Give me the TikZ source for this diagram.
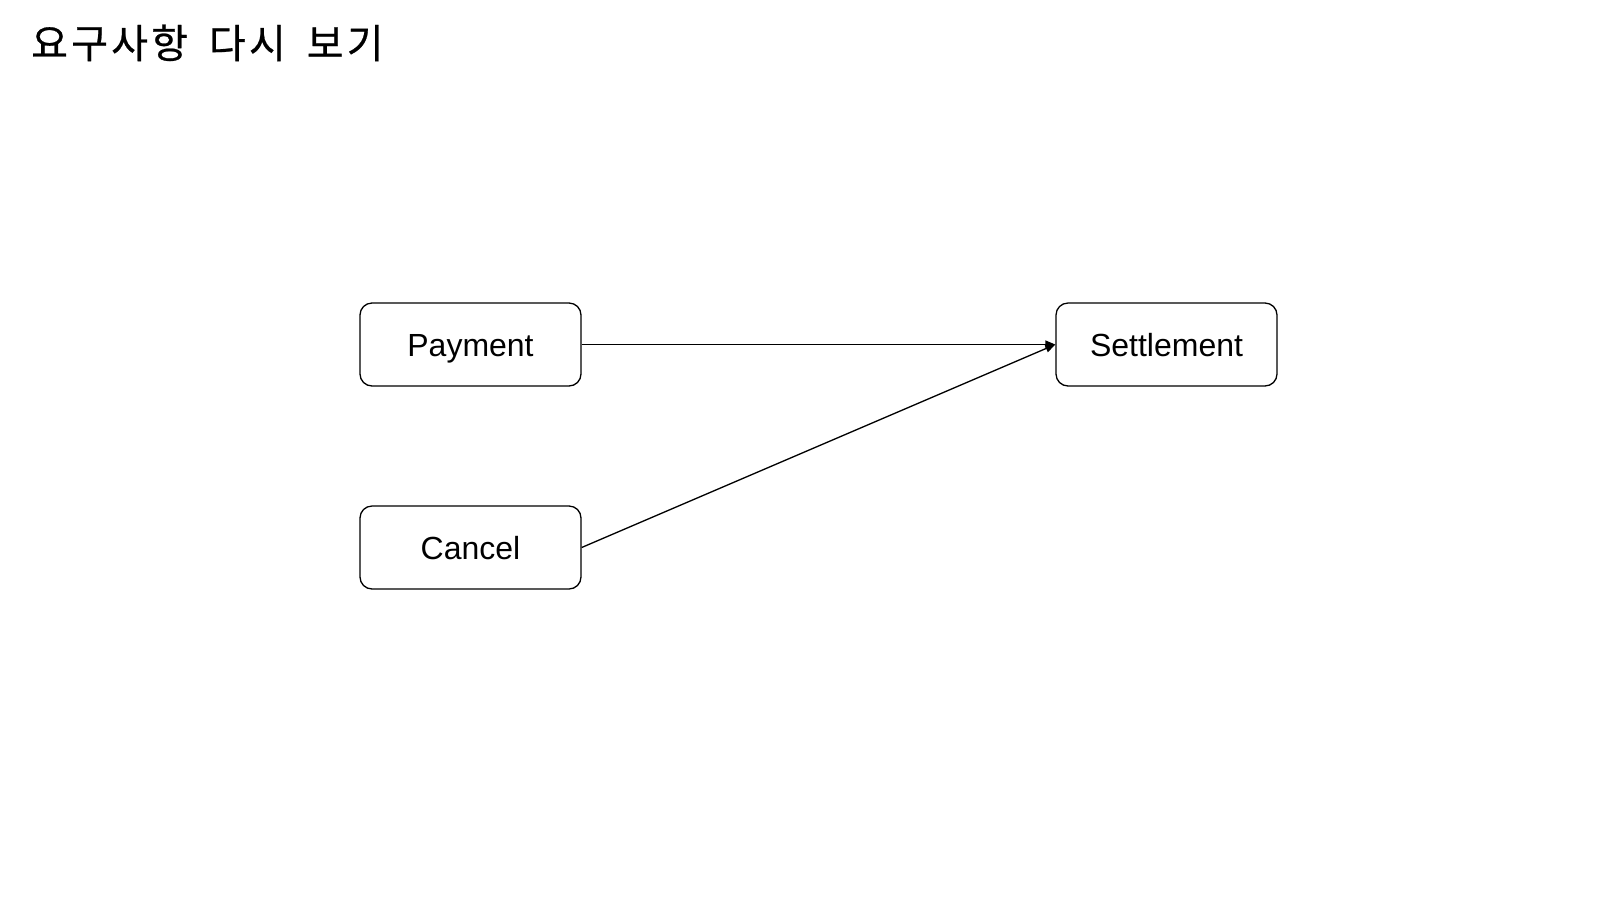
\documentclass[tikz,border=0pt]{standalone}
\usepackage{fontspec}
\setmainfont{Liberation Sans}
\newfontfamily\krfont[FakeBold=0.6,LetterSpace=8]{Noto Sans CJK KR}
\usetikzlibrary{arrows.meta}
\begin{document}
\begin{tikzpicture}[x=1pt,y=-1pt,
  box/.style={draw, line width=1.3pt, rounded corners=12pt, minimum width=221pt,
    minimum height=83pt, inner sep=0pt, text height=23pt, text depth=0pt,
    font=\fontsize{32}{37}\selectfont},
  link/.style={draw, line width=1.3pt, -{Triangle[length=10pt,width=8pt]}}]
  \useasboundingbox (0,0) rectangle (1606,898);
  \node[anchor=base west, inner sep=0pt, font=\krfont\fontsize{40}{46}\selectfont] (title) at (31,58)
    {요구사항\hspace{21pt}다시\hspace{21pt}보기};
  \node[box] (pay) at (470.5,344.5) {Payment};
  \node[box] (set) at (1166.5,344.5) {Settlement};
  \node[box] (can) at (470.5,547.5) {Cancel};
  \draw[link] (pay.east) -- (set.west);
  \draw[link] (can.east) -- (set.west);
\end{tikzpicture}
\end{document}
